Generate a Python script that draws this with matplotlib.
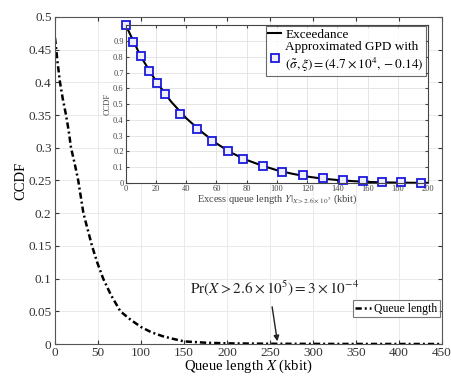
import matplotlib
matplotlib.use("Agg")
import matplotlib.pyplot as plt

plt.rcParams['font.family'] = ['Liberation Serif', 'DejaVu Serif']
plt.rcParams['mathtext.fontset'] = 'stix'

# Main curve: queue length CCDF
queue_x = [0, 3, 5.8, 9, 12.8, 16, 18.6, 23, 27, 33, 38, 43, 49, 56, 65, 76, 88, 100, 112, 125, 137, 150, 175, 200, 250, 300, 350, 400, 450]
queue_ccdf = [0.468, 0.43, 0.40, 0.375, 0.35, 0.325, 0.30, 0.275, 0.25, 0.20, 0.175, 0.15, 0.125, 0.10, 0.075, 0.05, 0.037, 0.026, 0.018, 0.012, 0.008, 0.004, 0.002, 0.001, 0.0004, 0.0002, 0.0001, 0.00005, 0.0]

# Inset: exceedance curve
exc_x = [0, 10, 20, 30, 40, 50, 60, 70, 80, 90, 100, 110, 120, 130, 140, 150, 160, 170, 180, 190, 200]
exc_y = [1.0, 0.80, 0.645, 0.515, 0.41, 0.325, 0.25, 0.19, 0.145, 0.11, 0.08, 0.058, 0.04, 0.027, 0.018, 0.011, 0.006, 0.003, 0.0015, 0.0005, 0.0]

# Inset: GPD approximation markers
gpd_x = [0, 4.7, 10, 15.5, 20.8, 26.1, 36.1, 47, 57.1, 67.8, 77.7, 90.8, 103.6, 117.2, 130.2, 143.5, 156.8, 169.6, 182.3, 195.6]
gpd_y = [1.0, 0.893, 0.803, 0.709, 0.632, 0.562, 0.438, 0.342, 0.263, 0.199, 0.15, 0.107, 0.07, 0.05, 0.03, 0.02, 0.013, 0.006, 0.003, 0.002]

main_xticks = [0, 50, 100, 150, 200, 250, 300, 350, 400, 450]
main_yticks = [0, 0.05, 0.1, 0.15, 0.2, 0.25, 0.3, 0.35, 0.4, 0.45, 0.5]
main_yticklabels = ['0', '0.05', '0.1', '0.15', '0.2', '0.25', '0.3', '0.35', '0.4', '0.45', '0.5']
inset_xticks = [0, 20, 40, 60, 80, 100, 120, 140, 160, 180, 200]
inset_yticks = [0, 0.1, 0.2, 0.3, 0.4, 0.5, 0.6, 0.7, 0.8, 0.9, 1.0]
inset_yticklabels = ['0', '0.1', '0.2', '0.3', '0.4', '0.5', '0.6', '0.7', '0.8', '0.9', '']

fig = plt.figure(figsize=(4.51, 3.77), dpi=100)
ax = fig.add_axes([0.122, 0.0875, 0.858, 0.8675])
ax.plot(queue_x, queue_ccdf, color='black', linestyle=(0, (2.5, 1.2, 0.8, 1.2)), linewidth=1.8,
        label='Queue length')
ax.set_xlim(0, 450)
ax.set_ylim(0, 0.5)
ax.set_xticks(main_xticks)
ax.set_yticks(main_yticks)
ax.set_yticklabels(main_yticklabels)
ax.tick_params(direction='in', top=True, right=True, labelsize=9.5, colors='#333333', length=3, pad=2.5)
ax.grid(True, color='#e6e6e6', linewidth=0.6)
ax.set_axisbelow(True)
ax.set_xlabel(r'Queue length $X$ (kbit)', fontsize=10.5, labelpad=-1)
ax.set_ylabel('CCDF', fontsize=10.5, labelpad=1)
for s in ax.spines.values():
    s.set_color('#555555')
leg = ax.legend(loc='lower right', bbox_to_anchor=(1.0, 0.075), fontsize=8.5, frameon=True,
                fancybox=False, edgecolor='#555555', handlelength=1.3, handletextpad=0.3,
                borderpad=0.2, borderaxespad=0.2)
leg.get_frame().set_linewidth(0.8)

ax.text(255, 0.071, r'$\mathrm{Pr}(X > 2.6\times10^5) = 3\times10^{-4}$', fontsize=11,
        ha='center', va='bottom', color='#222222')
ax.annotate('', xy=(259, 0.0), xytext=(252, 0.061),
            arrowprops=dict(arrowstyle='-|>', color='#222222', linewidth=1.0, mutation_scale=8))

ins = fig.add_axes([0.279, 0.515, 0.67, 0.42])
ins.plot(exc_x, exc_y, color='black', linewidth=1.5, label='Exceedance')
ins.plot(gpd_x, gpd_y, linestyle='none', marker='s', markersize=5.5, markerfacecolor='#eeeeff',
         markeredgecolor='#1a1adb', markeredgewidth=1.3, clip_on=False,
         label='Approximated GPD with\n' + r'$(\tilde{\sigma}, \xi) = (4.7\times10^4, -0.14)$')
ins.set_xlim(0, 200)
ins.set_ylim(0, 1.005)
ins.set_xticks(inset_xticks)
ins.set_yticks(inset_yticks)
ins.set_yticklabels(inset_yticklabels)
ins.tick_params(direction='in', top=True, right=True, labelsize=6, colors='#444444', length=2, pad=1.5)
ins.grid(True, color='#e0e0e0', linewidth=0.6)
ins.set_axisbelow(True)
ins.set_xlabel(r'Excess queue length $Y|_{X>2.6\times10^5}$ (kbit)', fontsize=7.5, labelpad=0, color='#444444')
ins.set_ylabel('CCDF', fontsize=6, labelpad=1, color='#444444')
for s in ins.spines.values():
    s.set_color('#444444')
leg2 = ins.legend(loc='upper right', fontsize=9.5, frameon=True, fancybox=False, edgecolor='#444444',
                  handlelength=1.0, handletextpad=0.3, borderpad=0.15, borderaxespad=0.15,
                  labelspacing=0.05)
leg2.get_frame().set_linewidth(0.8)

fig.savefig('out.png', dpi=100)
